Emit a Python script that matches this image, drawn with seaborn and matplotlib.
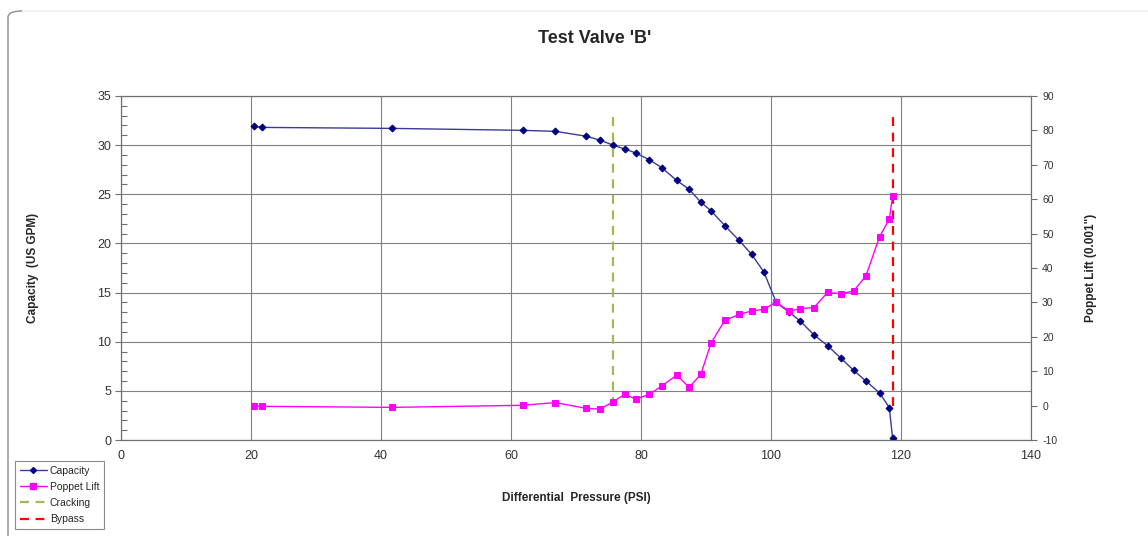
"""
Test Valve 'B' capacity and poppet lift vs differential pressure.
"""

import matplotlib
matplotlib.use("Agg")
import matplotlib.pyplot as plt
import seaborn as sns
from matplotlib.lines import Line2D
from matplotlib.patches import FancyBboxPatch
from matplotlib.ticker import MultipleLocator

PRESSURE = [20.5, 21.7, 41.7, 61.8, 66.8, 71.6, 73.7, 75.7, 77.5, 79.2,
            81.3, 83.2, 85.5, 87.4, 89.2, 90.8, 92.9, 95.1, 97.0, 98.9,
            100.8, 102.8, 104.5, 106.6, 108.7, 110.8, 112.7, 114.6, 116.7,
            118.2, 118.7]
CAPACITY = [31.9, 31.8, 31.7, 31.5, 31.4, 30.9, 30.5, 30.0, 29.6, 29.2,
            28.5, 27.7, 26.4, 25.5, 24.2, 23.3, 21.8, 20.3, 18.9, 17.1,
            14.0, 13.0, 12.1, 10.7, 9.6, 8.3, 7.1, 6.0, 4.8, 3.3, 0.2]
POPPET_LIFT = [-0.2, -0.2, -0.5, 0.1, 0.9, -0.8, -1.0, 1.1, 3.3, 1.9,
               3.3, 5.7, 8.9, 5.3, 9.1, 18.3, 24.8, 26.5, 27.5, 28.0,
               30.1, 27.4, 28.2, 28.5, 32.9, 32.5, 33.3, 37.7, 49.1,
               54.2, 60.9]

CRACKING_X = [75.7, 75.7]
BYPASS_X = [118.7, 118.7]
MARKER_LINE_Y = [0, 85]

CAP_COLOR = "#000080"
CAP_LINE = "#3a3a9a"
LIFT_COLOR = "#ff00ff"
CRACK_COLOR = "#9bbb59"
BYPASS_COLOR = "#ff0000"
TICK_COLOR = "#333333"
DASH = (0, (4, 3))

sns.set_style("white")
plt.rcParams["font.family"] = ["Liberation Sans", "DejaVu Sans"]
plt.rcParams["axes.unicode_minus"] = False

fig = plt.figure(figsize=(11.48, 5.36), dpi=100)
ax = fig.add_axes([0.1054, 0.179, 0.7927, 0.642])
ax2 = ax.twinx()

# chart-area frame: faint top edge, grey left edge with rounded corner
frame = FancyBboxPatch((8 / 1148, -0.05), 1.2, 1.0 - 11 / 536 + 0.05,
                       boxstyle="round,pad=0,rounding_size=0.012",
                       transform=fig.transFigure, fill=False,
                       edgecolor="#ececec", linewidth=1.0, zorder=0)
fig.patches.append(frame)
corner = FancyBboxPatch((8 / 1148, -0.05), 0.05, 1.0 - 11 / 536 + 0.05,
                        boxstyle="round,pad=0,rounding_size=0.012",
                        transform=fig.transFigure, fill=False,
                        edgecolor="#909090", linewidth=1.0, zorder=0,
                        clip_on=True)
corner.set_clip_box(fig.transFigure.transform_bbox(
    matplotlib.transforms.Bbox([[0, 0], [22 / 1148, 1]])))
fig.patches.append(corner)

sns.lineplot(x=PRESSURE, y=CAPACITY, ax=ax, color=CAP_LINE, linewidth=1.0,
             marker="D", markersize=3.5, markerfacecolor=CAP_COLOR,
             markeredgecolor=CAP_COLOR, sort=False, estimator=None, zorder=3)
sns.lineplot(x=PRESSURE, y=POPPET_LIFT, ax=ax2, color=LIFT_COLOR,
             linewidth=1.0, marker="s", markersize=4.5,
             markerfacecolor=LIFT_COLOR, markeredgecolor=LIFT_COLOR,
             sort=False, estimator=None, zorder=3)
sns.lineplot(x=CRACKING_X, y=MARKER_LINE_Y, ax=ax2, color=CRACK_COLOR,
             linewidth=1.6, linestyle=DASH, sort=False, estimator=None,
             zorder=2)
sns.lineplot(x=BYPASS_X, y=MARKER_LINE_Y, ax=ax2, color=BYPASS_COLOR,
             linewidth=1.6, linestyle=DASH, sort=False, estimator=None,
             zorder=2)

ax.set_xlim(0, 140)
ax.set_ylim(0, 35)
ax2.set_ylim(-10, 90)

ax.xaxis.set_major_locator(MultipleLocator(20))
ax.xaxis.set_minor_locator(MultipleLocator(4))
ax.yaxis.set_major_locator(MultipleLocator(5))
ax.yaxis.set_minor_locator(MultipleLocator(1))
ax2.yaxis.set_major_locator(MultipleLocator(10))

ax.grid(True, which="major", color="#808080", linewidth=0.8)
ax.set_axisbelow(True)

for a in (ax, ax2):
    for s in a.spines.values():
        s.set_color("#707070")
        s.set_linewidth(0.8)

ax.tick_params(axis="both", which="major", direction="out", length=4,
               width=0.8, color="#707070", labelsize=9, labelcolor=TICK_COLOR)
ax.tick_params(axis="both", which="minor", direction="in", length=4,
               width=0.8, color="#707070")
ax.tick_params(axis="x", which="major", pad=3)
ax.tick_params(axis="y", which="major", pad=3)
ax2.tick_params(axis="y", which="major", direction="out", length=4,
                width=0.8, color="#707070", labelsize=7.5,
                labelcolor=TICK_COLOR, pad=4)
ax2.grid(False)

ax.set_xlabel("Differential  Pressure (PSI)", fontsize=8.5, fontweight="bold",
              labelpad=22)
ax.set_ylabel("Capacity  (US GPM)", fontsize=8.5, fontweight="bold",
              labelpad=42)
ax2.set_ylabel("Poppet Lift (0.001\")", fontsize=8.5, fontweight="bold",
               labelpad=20)

fig.text(0.518, 0.928, "Test Valve 'B'", ha="center", va="center",
         fontsize=13, fontweight="bold")

handles = [
    Line2D([], [], color=CAP_LINE, lw=1.0, marker="D", markersize=3,
           markerfacecolor=CAP_COLOR, markeredgecolor=CAP_COLOR),
    Line2D([], [], color=LIFT_COLOR, lw=1.0, marker="s", markersize=4,
           markerfacecolor=LIFT_COLOR, markeredgecolor=LIFT_COLOR),
    Line2D([], [], color=CRACK_COLOR, lw=1.6, linestyle=DASH),
    Line2D([], [], color=BYPASS_COLOR, lw=1.6, linestyle=DASH),
]
leg = fig.legend(handles, ["Capacity", "Poppet Lift", "Cracking", "Bypass"],
                 loc="lower left", bbox_to_anchor=(15 / 1148, 7 / 536),
                 fontsize=7.5, frameon=True, fancybox=False,
                 handlelength=2.6, handletextpad=0.3, labelspacing=0.6,
                 borderpad=0.45, borderaxespad=0)
leg.get_frame().set_edgecolor("#707070")
leg.get_frame().set_linewidth(0.8)

fig.savefig("out.png", dpi=100)
